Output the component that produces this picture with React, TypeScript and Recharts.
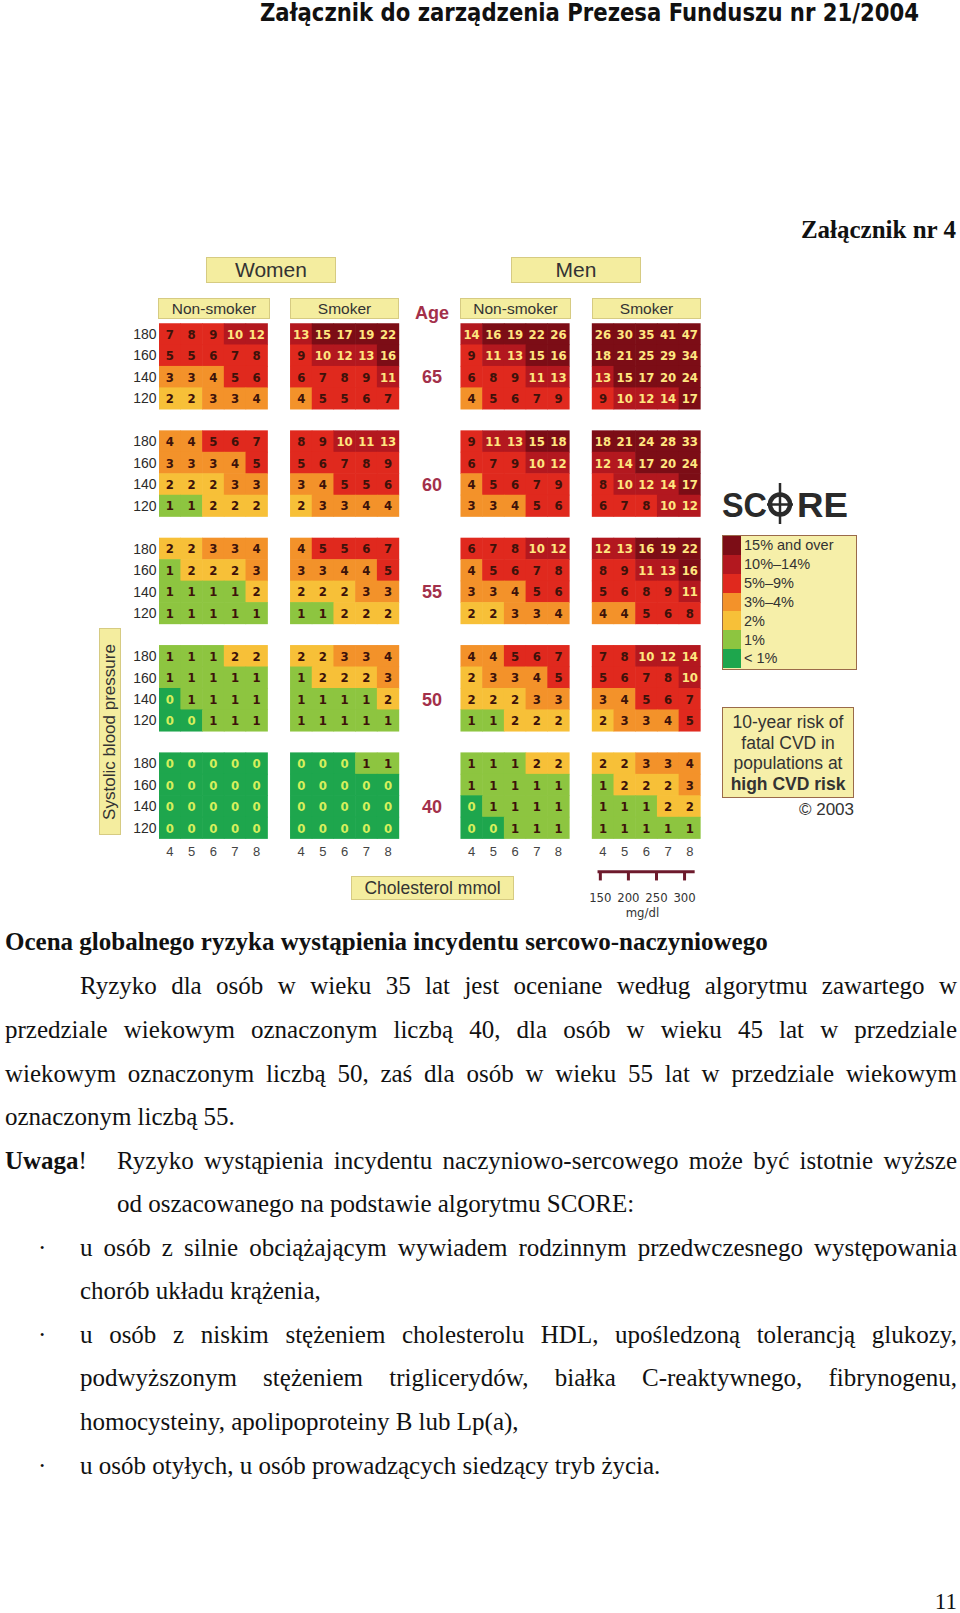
import React from 'react';
import { ScatterChart, Scatter, XAxis, YAxis, ReferenceLine } from 'recharts';

// ---------- data ----------
const ages = [65, 60, 55, 50, 40];
const sbpLevels = [180, 160, 140, 120];
const cholesterolMmol = [4, 5, 6, 7, 8];
const mgdlTicks = [150, 200, 250, 300];

const womenNonSmoker = [
  [[7, 8, 9, 10, 12], [5, 5, 6, 7, 8], [3, 3, 4, 5, 6], [2, 2, 3, 3, 4]],
  [[4, 4, 5, 6, 7], [3, 3, 3, 4, 5], [2, 2, 2, 3, 3], [1, 1, 2, 2, 2]],
  [[2, 2, 3, 3, 4], [1, 2, 2, 2, 3], [1, 1, 1, 1, 2], [1, 1, 1, 1, 1]],
  [[1, 1, 1, 2, 2], [1, 1, 1, 1, 1], [0, 1, 1, 1, 1], [0, 0, 1, 1, 1]],
  [[0, 0, 0, 0, 0], [0, 0, 0, 0, 0], [0, 0, 0, 0, 0], [0, 0, 0, 0, 0]],
];
const womenSmoker = [
  [[13, 15, 17, 19, 22], [9, 10, 12, 13, 16], [6, 7, 8, 9, 11], [4, 5, 5, 6, 7]],
  [[8, 9, 10, 11, 13], [5, 6, 7, 8, 9], [3, 4, 5, 5, 6], [2, 3, 3, 4, 4]],
  [[4, 5, 5, 6, 7], [3, 3, 4, 4, 5], [2, 2, 2, 3, 3], [1, 1, 2, 2, 2]],
  [[2, 2, 3, 3, 4], [1, 2, 2, 2, 3], [1, 1, 1, 1, 2], [1, 1, 1, 1, 1]],
  [[0, 0, 0, 1, 1], [0, 0, 0, 0, 0], [0, 0, 0, 0, 0], [0, 0, 0, 0, 0]],
];
const menNonSmoker = [
  [[14, 16, 19, 22, 26], [9, 11, 13, 15, 16], [6, 8, 9, 11, 13], [4, 5, 6, 7, 9]],
  [[9, 11, 13, 15, 18], [6, 7, 9, 10, 12], [4, 5, 6, 7, 9], [3, 3, 4, 5, 6]],
  [[6, 7, 8, 10, 12], [4, 5, 6, 7, 8], [3, 3, 4, 5, 6], [2, 2, 3, 3, 4]],
  [[4, 4, 5, 6, 7], [2, 3, 3, 4, 5], [2, 2, 2, 3, 3], [1, 1, 2, 2, 2]],
  [[1, 1, 1, 2, 2], [1, 1, 1, 1, 1], [0, 1, 1, 1, 1], [0, 0, 1, 1, 1]],
];
const menSmoker = [
  [[26, 30, 35, 41, 47], [18, 21, 25, 29, 34], [13, 15, 17, 20, 24], [9, 10, 12, 14, 17]],
  [[18, 21, 24, 28, 33], [12, 14, 17, 20, 24], [8, 10, 12, 14, 17], [6, 7, 8, 10, 12]],
  [[12, 13, 16, 19, 22], [8, 9, 11, 13, 16], [5, 6, 8, 9, 11], [4, 4, 5, 6, 8]],
  [[7, 8, 10, 12, 14], [5, 6, 7, 8, 10], [3, 4, 5, 6, 7], [2, 3, 3, 4, 5]],
  [[2, 2, 3, 3, 4], [1, 2, 2, 2, 3], [1, 1, 1, 2, 2], [1, 1, 1, 1, 1]],
];

const legendLabels = ['15% and over', '10%\u201314%', '5%\u20139%', '3%\u20134%', '2%', '1%', '< 1%'];
const legendColors = ['#7c0d16', '#b3181f', '#e0291e', '#f3922a', '#f7c038', '#8dc540', '#1ea64d'];

// ---------- layout ----------
const PANEL_OFFSETS = [0, 6.05, 13.9, 19.95];
const X_SPAN = 24.95;
const Y_SPAN = 28;
const GRID_LEFT = 159;
const GRID_TOP = 323.3;
const CELL_W = 21.71;
const CELL_H = 21.47;
const CH_LEFT = 100;
const CH_TOP = 300;
const CH_W = 620;
const CH_H = 640;
const Y_AXIS_W = GRID_LEFT - CH_LEFT;
const PLOT_W = X_SPAN * CELL_W;
const PLOT_H = Y_SPAN * CELL_H;
const MARGIN = {
  top: GRID_TOP - CH_TOP,
  left: 0,
  right: CH_W - Y_AXIS_W - PLOT_W,
  bottom: CH_H - (GRID_TOP - CH_TOP) - PLOT_H,
};

const riskColor = (v: number) =>
  v >= 15 ? legendColors[0] : v >= 10 ? legendColors[1] : v >= 5 ? legendColors[2] : v >= 3 ? legendColors[3] : v >= 2 ? legendColors[4] : v >= 1 ? legendColors[5] : legendColors[6];
const textColor = (v: number) => (v === 0 ? '#d6ef5c' : v >= 10 ? '#ffe680' : '#3d120a');

const panels = [womenNonSmoker, womenSmoker, menNonSmoker, menSmoker];
const cellData: { x: number; y: number; v: number }[] = [];
panels.forEach((panel, p) =>
  panel.forEach((block, b) =>
    block.forEach((row, r) =>
      row.forEach((v, c) => cellData.push({ x: PANEL_OFFSETS[p] + c + 0.5, y: b * 5 + r + 0.5, v }))
    )
  )
);
const yTicks: number[] = [];
ages.forEach((_, b) => sbpLevels.forEach((_, r) => yTicks.push(b * 5 + r + 0.5)));

const ageData = ages.map((a, b) => ({ x: 12.57, y: b * 5 + 2.5, label: String(a) }));
const cholData: { x: number; y: number; label: string }[] = [];
PANEL_OFFSETS.forEach((off) => cholesterolMmol.forEach((m, c) => cholData.push({ x: off + c + 0.5, y: 24.61, label: String(m) })));
const mgToX = (mg: number) => PANEL_OFFSETS[3] + 0.5 + (mg / 38.67 - cholesterolMmol[0]);
const mgData = mgdlTicks.map((m) => ({ x: mgToX(m), y: 26.75, label: String(m) }));
const mgUnit = [{ x: (mgToX(mgdlTicks[0]) + mgToX(mgdlTicks[3])) / 2, y: 27.45, label: 'mg/dl' }];

const NARROW = '"Liberation Sans Narrow", "Arial Narrow", "DejaVu Sans Condensed", Arial, sans-serif';
const SANS = '"Liberation Sans", Arial, Helvetica, sans-serif';
const SERIF = '"Liberation Serif", "Times New Roman", Times, serif';

const CellShape = (props: any) => {
  const { cx, cy, payload } = props;
  const v = payload.v;
  return (
    <g>
      <rect x={cx - CELL_W / 2 - 0.3} y={cy - CELL_H / 2 - 0.3} width={CELL_W + 0.6} height={CELL_H + 0.6} fill={riskColor(v)} />
      <text x={cx} y={cy} dy="0.36em" textAnchor="middle" fontFamily={NARROW} fontWeight="bold" fontSize={13} fill={textColor(v)}>
        {v}
      </text>
    </g>
  );
};

const makeLabel = (size: number, color: string, weight: string, family: string) => (props: any) => {
  const { cx, cy, payload } = props;
  return (
    <text x={cx} y={cy} dy="0.36em" textAnchor="middle" fontFamily={family} fontWeight={weight} fontSize={size} fill={color}>
      {payload.label}
    </text>
  );
};
const AgeShape = makeLabel(18, '#a3304a', 'bold', SANS);
const CholShape = makeLabel(13, '#444', 'normal', SANS);
const MgShape = makeLabel(13, '#333', 'normal', NARROW);

const yellowBox: React.CSSProperties = {
  position: 'absolute',
  background: '#f4ed9f',
  border: '1px solid #d6cb82',
  boxSizing: 'border-box',
  color: '#333',
  fontFamily: SANS,
  display: 'flex',
  alignItems: 'center',
  justifyContent: 'center',
};

const BODY_FS = 25;
const BODY_LH = '30px';
const LINE_TOP0 = 987.8;
const PITCH = 43.56;
const lineTop = (i: number) => LINE_TOP0 + i * PITCH - 16.4;

const bodyLine = (top: number, left: number, text: React.ReactNode, justify: boolean, key: string) => (
  <div
    key={key}
    style={{
      position: 'absolute',
      top,
      left,
      width: 957 - left,
      fontFamily: SERIF,
      fontSize: BODY_FS,
      lineHeight: BODY_LH,
      color: '#111',
      whiteSpace: 'nowrap',
      textAlign: justify ? 'justify' : 'left',
      textAlignLast: justify ? 'justify' : 'left',
    } as React.CSSProperties}
  >
    {text}
  </div>
);

export default function App() {
  const mgLine = [{ x: mgToX(145), y: 25.54 }, { x: mgToX(318), y: 25.54 }];
  return (
    <div style={{ position: 'absolute', left: 0, top: 0, width: 960, height: 1613, background: '#fff', overflow: 'hidden' }}>
      {/* Header */}
      <svg style={{ position: 'absolute', left: 0, top: 0 }} width={960} height={32}>
        <text x={260} y={21} textLength={659} lengthAdjust="spacingAndGlyphs" fontFamily={NARROW} fontWeight="bold" fontSize={24} fill="#111">
          Załącznik do zarządzenia Prezesa Funduszu nr 21/2004
        </text>
      </svg>
      <div style={{ position: 'absolute', right: 4, top: 231.5 - 16.4, fontFamily: SERIF, fontWeight: 'bold', fontSize: 25, lineHeight: '30px', color: '#111' }}>
        Załącznik nr 4
      </div>

      {/* Chart headers */}
      <div style={{ ...yellowBox, left: 206, top: 257, width: 130, height: 26, fontSize: 21 }}>Women</div>
      <div style={{ ...yellowBox, left: 511, top: 257, width: 130, height: 26, fontSize: 21 }}>Men</div>
      <div style={{ ...yellowBox, left: 158, top: 298, width: 112, height: 21, fontSize: 15.5 }}>Non-smoker</div>
      <div style={{ ...yellowBox, left: 290, top: 298, width: 109, height: 21, fontSize: 15.5 }}>Smoker</div>
      <div style={{ ...yellowBox, left: 460, top: 298, width: 111, height: 21, fontSize: 15.5 }}>Non-smoker</div>
      <div style={{ ...yellowBox, left: 592, top: 298, width: 109, height: 21, fontSize: 15.5 }}>Smoker</div>
      <div style={{ position: 'absolute', left: 402, top: 302, width: 60, textAlign: 'center', fontFamily: SANS, fontWeight: 'bold', fontSize: 18, lineHeight: '22px', color: '#a3304a' }}>
        Age
      </div>

      {/* Systolic label */}
      <div style={{ ...yellowBox, left: 99, top: 628, width: 22, height: 207 }}>
        <div style={{ transform: 'rotate(-90deg)', whiteSpace: 'nowrap', fontSize: 17, color: '#333' }}>Systolic blood pressure</div>
      </div>
      {/* Cholesterol label */}
      <div style={{ ...yellowBox, left: 351, top: 876, width: 163, height: 24, fontSize: 17.5 }}>Cholesterol mmol</div>

      {/* Grid chart */}
      <div style={{ position: 'absolute', left: CH_LEFT, top: CH_TOP }}>
        <ScatterChart width={CH_W} height={CH_H} margin={MARGIN}>
          <XAxis dataKey="x" type="number" domain={[0, X_SPAN]} hide allowDataOverflow />
          <YAxis
            dataKey="y"
            type="number"
            domain={[0, Y_SPAN]}
            reversed
            allowDataOverflow
            ticks={yTicks}
            interval={0}
            width={Y_AXIS_W}
            axisLine={false}
            tickLine={false}
            tickSize={0}
            tickMargin={2.5}
            tick={{ fill: '#2b2b2b', fontSize: 14, fontFamily: SANS }}
            tickFormatter={(v: number) => String(sbpLevels[Math.floor(v) % 5])}
          />
          <Scatter data={cellData} shape={CellShape} isAnimationActive={false} />
          <Scatter data={ageData} shape={AgeShape} isAnimationActive={false} />
          <Scatter data={cholData} shape={CholShape} isAnimationActive={false} />
          <Scatter data={mgData} shape={MgShape} isAnimationActive={false} />
          <Scatter data={mgUnit} shape={MgShape} isAnimationActive={false} />
          <ReferenceLine segment={mgLine} stroke="#6d1a2c" strokeWidth={3} />
          {mgdlTicks.map((m) => (
            <ReferenceLine
              key={m}
              segment={[{ x: mgToX(m), y: 25.54 }, { x: mgToX(m), y: 25.95 }]}
              stroke="#6d1a2c"
              strokeWidth={3}
            />
          ))}
        </ScatterChart>
      </div>

      {/* SCORE logo */}
      <svg style={{ position: 'absolute', left: 715, top: 478 }} width={140} height={50}>
        <text x={7} y={39} textLength={45} lengthAdjust="spacingAndGlyphs" fontFamily={SANS} fontWeight="bold" fontSize={35} fill="#2a2a2a">SC</text>
        <circle cx={65} cy={26.5} r={10} fill="none" stroke="#2a2a2a" strokeWidth={4.5} />
        <line x1={65} y1={5} x2={65} y2={46} stroke="#2a2a2a" strokeWidth={2.5} />
        <line x1={52} y1={26.5} x2={78} y2={26.5} stroke="#2a2a2a" strokeWidth={2.5} />
        <text x={82} y={39} textLength={51} lengthAdjust="spacingAndGlyphs" fontFamily={SANS} fontWeight="bold" fontSize={35} fill="#2a2a2a">RE</text>
      </svg>

      {/* Legend */}
      <div style={{ position: 'absolute', left: 722, top: 535, width: 135, height: 135, background: '#f6efa9', border: '1.5px solid #9a6a4a', boxSizing: 'border-box' }}>
        {legendLabels.map((l, i) => (
          <div key={l} style={{ display: 'flex', alignItems: 'center', height: 132 / 7 }}>
            <div style={{ width: 18, height: '100%', background: legendColors[i] }} />
            <div style={{ marginLeft: 3, fontFamily: SANS, fontSize: 14.5, color: '#333', whiteSpace: 'nowrap' }}>{l}</div>
          </div>
        ))}
      </div>
      <div style={{ position: 'absolute', left: 722, top: 707, width: 132, height: 91, background: '#f6efa9', border: '1.5px solid #9a6a4a', boxSizing: 'border-box', fontFamily: SANS, fontSize: 17.5, lineHeight: '20.5px', color: '#333', textAlign: 'center', paddingTop: 4 }}>
        <div>10-year risk of</div>
        <div>fatal CVD in</div>
        <div>populations at</div>
        <div style={{ fontWeight: 'bold' }}>high CVD risk</div>
      </div>
      <div style={{ position: 'absolute', left: 760, top: 799, width: 94, textAlign: 'right', fontFamily: SANS, fontSize: 17, lineHeight: '22px', color: '#333' }}>
        © 2003
      </div>

      {/* Body text */}
      <div style={{ position: 'absolute', top: 943.6 - 16.4, left: 5, fontFamily: SERIF, fontWeight: 'bold', fontSize: BODY_FS, lineHeight: BODY_LH, color: '#111', whiteSpace: 'nowrap' }}>
        Ocena globalnego ryzyka wystąpienia incydentu sercowo-naczyniowego
      </div>
      {bodyLine(lineTop(0), 80, 'Ryzyko dla osób w wieku 35 lat jest oceniane według algorytmu zawartego w', true, 'l0')}
      {bodyLine(lineTop(1), 5, 'przedziale wiekowym oznaczonym liczbą 40, dla osób w wieku 45 lat w przedziale', true, 'l1')}
      {bodyLine(lineTop(2), 5, 'wiekowym oznaczonym liczbą 50, zaś dla osób w wieku 55 lat w przedziale wiekowym', true, 'l2')}
      {bodyLine(lineTop(3), 5, 'oznaczonym liczbą 55.', false, 'l3')}
      <div style={{ position: 'absolute', top: lineTop(4), left: 5, fontFamily: SERIF, fontSize: BODY_FS, lineHeight: BODY_LH, color: '#111' }}>
        <b>Uwaga</b>!
      </div>
      {bodyLine(lineTop(4), 117, 'Ryzyko wystąpienia incydentu naczyniowo-sercowego może być istotnie wyższe', true, 'l4')}
      {bodyLine(lineTop(5), 117, 'od oszacowanego na podstawie algorytmu SCORE:', false, 'l5')}
      {[6, 8, 11].map((i) => (
        <div key={'b' + i} style={{ position: 'absolute', top: lineTop(i), left: 38, fontFamily: SERIF, fontSize: BODY_FS, lineHeight: BODY_LH, color: '#111' }}>·</div>
      ))}
      {bodyLine(lineTop(6), 80, 'u osób z silnie obciążającym wywiadem rodzinnym przedwczesnego występowania', true, 'l6')}
      {bodyLine(lineTop(7), 80, 'chorób układu krążenia,', false, 'l7')}
      {bodyLine(lineTop(8), 80, 'u osób z niskim stężeniem cholesterolu HDL, upośledzoną tolerancją glukozy,', true, 'l8')}
      {bodyLine(lineTop(9), 80, 'podwyższonym stężeniem triglicerydów, białka C-reaktywnego, fibrynogenu,', true, 'l9')}
      {bodyLine(lineTop(10), 80, 'homocysteiny, apolipoproteiny B lub Lp(a),', false, 'l10')}
      {bodyLine(lineTop(11), 80, 'u osób otyłych, u osób prowadzących siedzący tryb życia.', false, 'l11')}

      <div style={{ position: 'absolute', right: 3, top: 1590, fontFamily: SERIF, fontSize: 23, lineHeight: '23px', color: '#111' }}>11</div>
    </div>
  );
}
